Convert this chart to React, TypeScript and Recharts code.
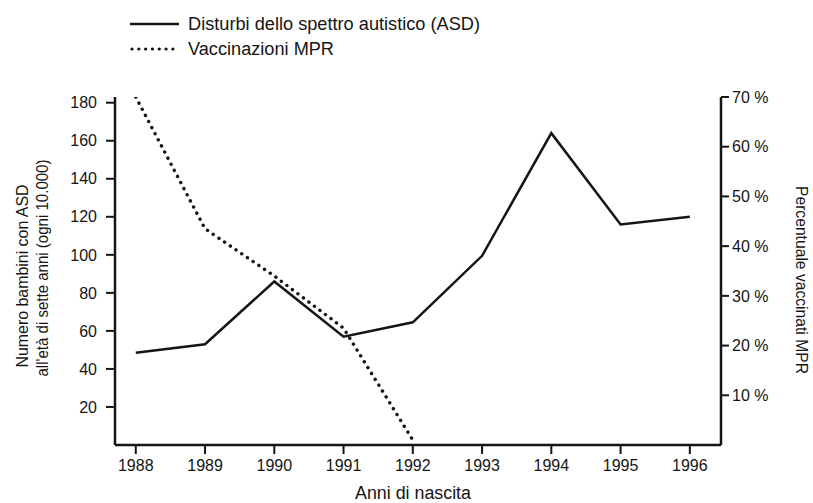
import React from 'react';
import { LineChart, Line, XAxis, YAxis, Legend } from 'recharts';

const FONT = "'Liberation Sans', Arial, sans-serif";
const INK = '#151515';

const years = [1988, 1989, 1990, 1991, 1992, 1993, 1994, 1995, 1996];
// ASD cases per 10,000 children at age seven (left axis)
const asdCases = [48.5, 53, 86, 57, 64.5, 99.5, 164, 116, 120];
// MMR vaccination coverage in % (right axis), stops in 1992
const mprCoverage = [70, 43.5, 34, 23.5, 1, null, null, null, null];

const leftTicks = [20, 40, 60, 80, 100, 120, 140, 160, 180];
const rightTicks = [10, 20, 30, 40, 50, 60, 70];
const seriesNames = ['Disturbi dello spettro autistico (ASD)', 'Vaccinazioni MPR'];
const leftTitle = ['Numero bambini con ASD', "all'età di sette anni (ogni 10.000)"];
const rightTitle = 'Percentuale vaccinati MPR';
const xTitle = 'Anni di nascita';

const data = years.map((year, i) => ({
  year,
  asd: asdCases[i],
  mpr: mprCoverage[i],
}));

// the original uses a condensed face, so text is squeezed to the measured widths
const legendWidths = [292, 146];
const leftTitleWidths = [183, 217];

const LegendBox = () => (
  <svg width={370} height={50}>
    {seriesNames.map((name, idx) => {
      const y = 12 + idx * 25;
      return (
        <g key={name}>
          {idx === 0 ? (
            <line x1={1} y1={y} x2={50} y2={y} stroke={INK} strokeWidth={2.5} />
          ) : (
            <line x1={3} y1={y} x2={50} y2={y} stroke={INK} strokeWidth={3.2}
              strokeDasharray="0.1 6.7" strokeLinecap="round" />
          )}
          <text x={59} y={y} dominantBaseline="central" fontFamily={FONT} fontSize={18}
            fill={INK} textLength={legendWidths[idx]} lengthAdjust="spacingAndGlyphs">
            {name}
          </text>
        </g>
      );
    })}
  </svg>
);

const LeftTitle = () => {
  const xs = [22, 42];
  const cys = [276, 268];
  return (
    <g>
      {leftTitle.map((t, i) => (
        <text key={t} x={xs[i]} y={cys[i]} transform={`rotate(-90, ${xs[i]}, ${cys[i]})`}
          textAnchor="middle" dominantBaseline="central" fontFamily={FONT} fontSize={17}
          fill={INK} textLength={leftTitleWidths[i]} lengthAdjust="spacingAndGlyphs">
          {t}
        </text>
      ))}
    </g>
  );
};

const RightTitle = () => {
  const x = 801;
  const cy = 280;
  return (
    <text x={x} y={cy} transform={`rotate(90, ${x}, ${cy})`} textAnchor="middle"
      dominantBaseline="central" fontFamily={FONT} fontSize={17} fill={INK}
      textLength={188} lengthAdjust="spacingAndGlyphs">
      {rightTitle}
    </text>
  );
};

const BottomTitle = (props: any) => {
  const { viewBox } = props;
  return (
    <text x={viewBox.x + viewBox.width / 2 - 5} y={493} textAnchor="middle"
      dominantBaseline="central" fontFamily={FONT} fontSize={18} fill={INK}
      textLength={116} lengthAdjust="spacingAndGlyphs">
      {xTitle}
    </text>
  );
};

export default function App() {
  const axisLine = { stroke: INK, strokeWidth: 2.5 };
  const tickLine = { stroke: INK, strokeWidth: 2 };
  const tickStyle = { fill: INK, fontSize: 16, fontFamily: FONT };

  return (
    <div style={{ position: 'absolute', left: 0, top: 0, width: 813, height: 503, background: '#fff' }}>
      <LineChart width={813} height={503} data={data}
        margin={{ top: 97, right: 0, bottom: 0, left: 0 }}>
        <XAxis dataKey="year" type="number" domain={[1987.7, 1996.45]} ticks={years}
          allowDataOverflow height={58} axisLine={axisLine} tickLine={tickLine} tickSize={9}
          tick={tickStyle} tickMargin={6} label={<BottomTitle />} />
        <YAxis yAxisId="left" orientation="left" width={115} domain={[0, 183]} ticks={leftTicks}
          allowDataOverflow axisLine={axisLine} tickLine={tickLine} tickSize={9}
          tick={tickStyle} tickMargin={9} label={<LeftTitle />} />
        <YAxis yAxisId="right" orientation="right" width={92} domain={[0, 70]} ticks={rightTicks}
          allowDataOverflow axisLine={axisLine} tickLine={tickLine} tickSize={8}
          tick={tickStyle} tickMargin={3} tickFormatter={(v: number) => `${v} %`}
          label={<RightTitle />} />
        <Legend layout="horizontal" verticalAlign="middle" align="center"
          wrapperStyle={{ top: 12, left: 129, width: 'auto' }} content={<LegendBox />} />
        <Line yAxisId="left" dataKey="asd" type="linear" stroke={INK} strokeWidth={2.5}
          dot={false} isAnimationActive={false} />
        <Line yAxisId="right" dataKey="mpr" type="linear" stroke={INK} strokeWidth={3.4}
          strokeDasharray="0.1 6.8" strokeLinecap="round" dot={false}
          isAnimationActive={false} />
      </LineChart>
    </div>
  );
}
